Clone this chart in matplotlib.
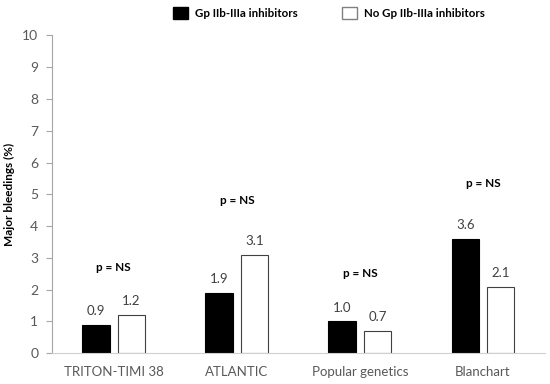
import matplotlib.pyplot as plt
import numpy as np
from matplotlib.patches import Patch

# studies and bleeding rates (%)
studies = ["TRITON-TIMI 38", "ATLANTIC", "Popular genetics", "Blanchart"]
gp_inhib = [0.9, 1.9, 1.0, 3.6]
no_gp_inhib = [1.2, 3.1, 0.7, 2.1]
p_labels = ["p = NS", "p = NS", "p = NS", "p = NS"]
p_heights = [2.7, 4.8, 2.5, 5.35]

plt.rcParams['font.family'] = ['Lato', 'DejaVu Sans']

fig = plt.figure(figsize=(5.5, 3.84), dpi=100)
ax = fig.add_axes([0.095, 0.08, 0.895, 0.828])

x = np.arange(len(studies))
w = 0.225
off = 0.143
ax.bar(x - off, gp_inhib, w, color='black', edgecolor='black', linewidth=0.8)
ax.bar(x + off, no_gp_inhib, w, color='white', edgecolor='#404040', linewidth=0.8)

for i in range(len(studies)):
    ax.text(x[i] - off, gp_inhib[i] + 0.25, f"{gp_inhib[i]:.1f}", ha='center', va='bottom',
            fontsize=9.5, color='#404040')
    ax.text(x[i] + off, no_gp_inhib[i] + 0.25, f"{no_gp_inhib[i]:.1f}", ha='center', va='bottom',
            fontsize=9.5, color='#404040')
    ax.text(x[i], p_heights[i], p_labels[i], ha='center', va='center',
            fontsize=8.5, fontweight='bold', color='black')

ax.set_xlim(-0.5, len(studies) - 0.5)
ax.set_ylim(0, 10)
ax.set_yticks(range(0, 11))
ax.set_xticks(x)
ax.set_xticklabels(studies)
ax.tick_params(axis='y', direction='out', length=4, color='#a6a6a6', labelcolor='#595959',
               labelsize=10, pad=6)
ax.tick_params(axis='x', length=0, labelcolor='#595959', labelsize=9.5, pad=9)
for s in ['top', 'right']:
    ax.spines[s].set_visible(False)
ax.spines['left'].set_color('#a6a6a6')
ax.spines['bottom'].set_color('#d0d0d0')
ax.set_ylabel("Major bleedings (%)", fontsize=8.5, fontweight='bold')
ax.yaxis.set_label_coords(-0.075, 0.5)

handles = [Patch(facecolor='black', edgecolor='black', label='Gp IIb-IIIa inhibitors'),
           Patch(facecolor='white', edgecolor='#808080', label='No Gp IIb-IIIa inhibitors')]
fig.legend(handles=handles, loc='upper left', bbox_to_anchor=(0.295, 1.01), ncol=2,
           frameon=False, prop={'weight': 'bold', 'size': 8.3}, handlelength=1.3,
           handleheight=1.3, columnspacing=3.9, handletextpad=0.6)

fig.savefig("out.png", dpi=100)
